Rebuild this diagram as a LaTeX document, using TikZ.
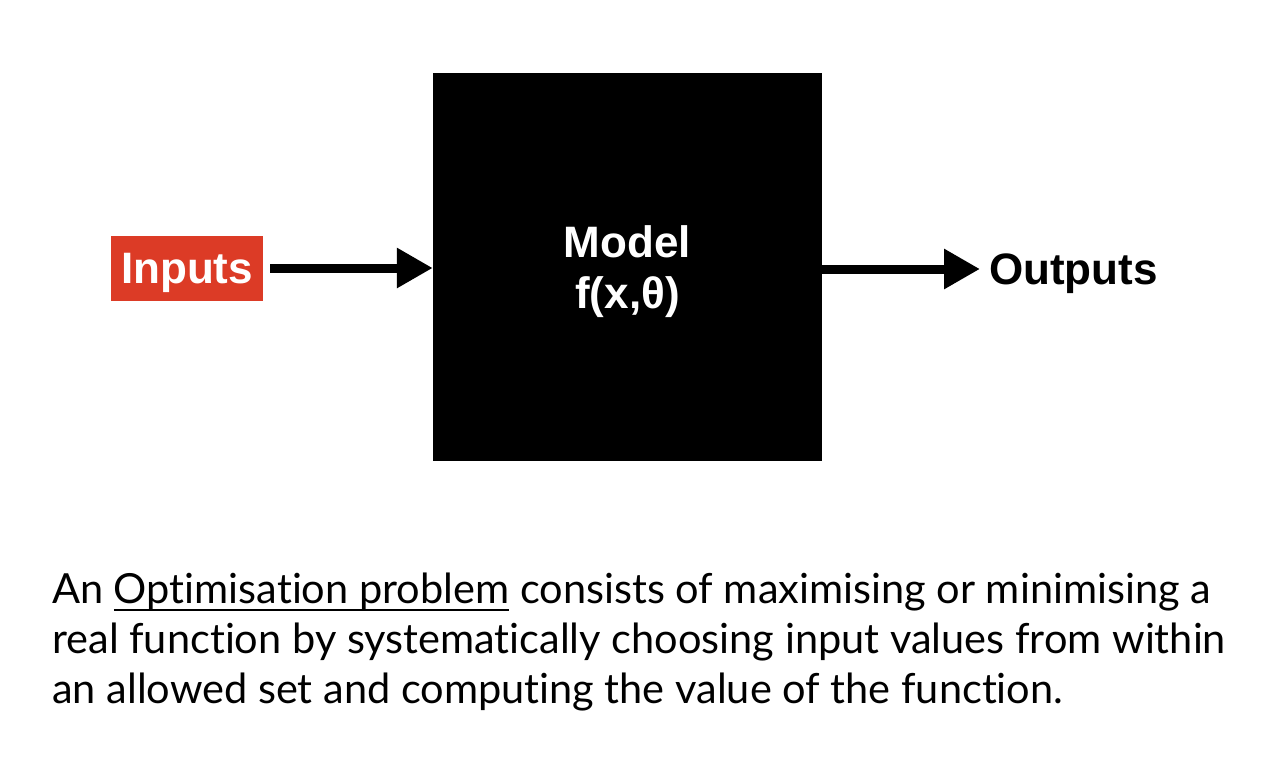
\documentclass[tikz,border=0pt]{standalone}
\usepackage{fontspec}
\setmainfont{Lato}[Ligatures={NoCommon}]
\newfontfamily\labelfont{Liberation Sans}
\usetikzlibrary{arrows.meta}
\definecolor{inred}{HTML}{DC3B26}
\newcommand\myul[1]{\setbox0\hbox{#1}\rlap{\rule[-8pt]{\wd0}{2pt}}\box0\relax}
\tikzset{
  lbl/.style={font=\labelfont\bfseries\fontsize{44}{51}\selectfont, inner sep=0pt, text depth=0pt},
  conn/.style={line width=9pt, -{Triangle[length=36pt,width=38pt]}},
  body/.style={font=\fontsize{41.5}{50}\selectfont, anchor=base west, inner sep=0pt}
}
\begin{document}
\begin{tikzpicture}[x=1pt,y=-1pt]
\useasboundingbox (0,0) rectangle (1276,776);
\node[lbl, fill=inred, text=white, minimum width=152pt, minimum height=65pt] (inputs) at (187,268.5) {Inputs};
\node[lbl, fill=black, text=white, minimum width=389pt, minimum height=388pt, align=center] (model) at (627.5,267) {Model\\f(x,θ)};
\node[lbl, anchor=west, inner xsep=9pt] (outputs) at (980,269) {Outputs};
\draw[conn, shorten <=7pt] (inputs.east |- 0,268) -- (model.west |- 0,268);
\draw[conn] (model.east |- 0,269) -- (outputs.west);
\node[body] (l1) at (52,603) {An \myul{Optimisation problem} consists of maximising or minimising a};
\node[body] (l2) at (52,653) {real function by systematically choosing input values from within};
\node[body] (l3) at (52,703) {an allowed set and computing the value of the function.};
\end{tikzpicture}
\end{document}
